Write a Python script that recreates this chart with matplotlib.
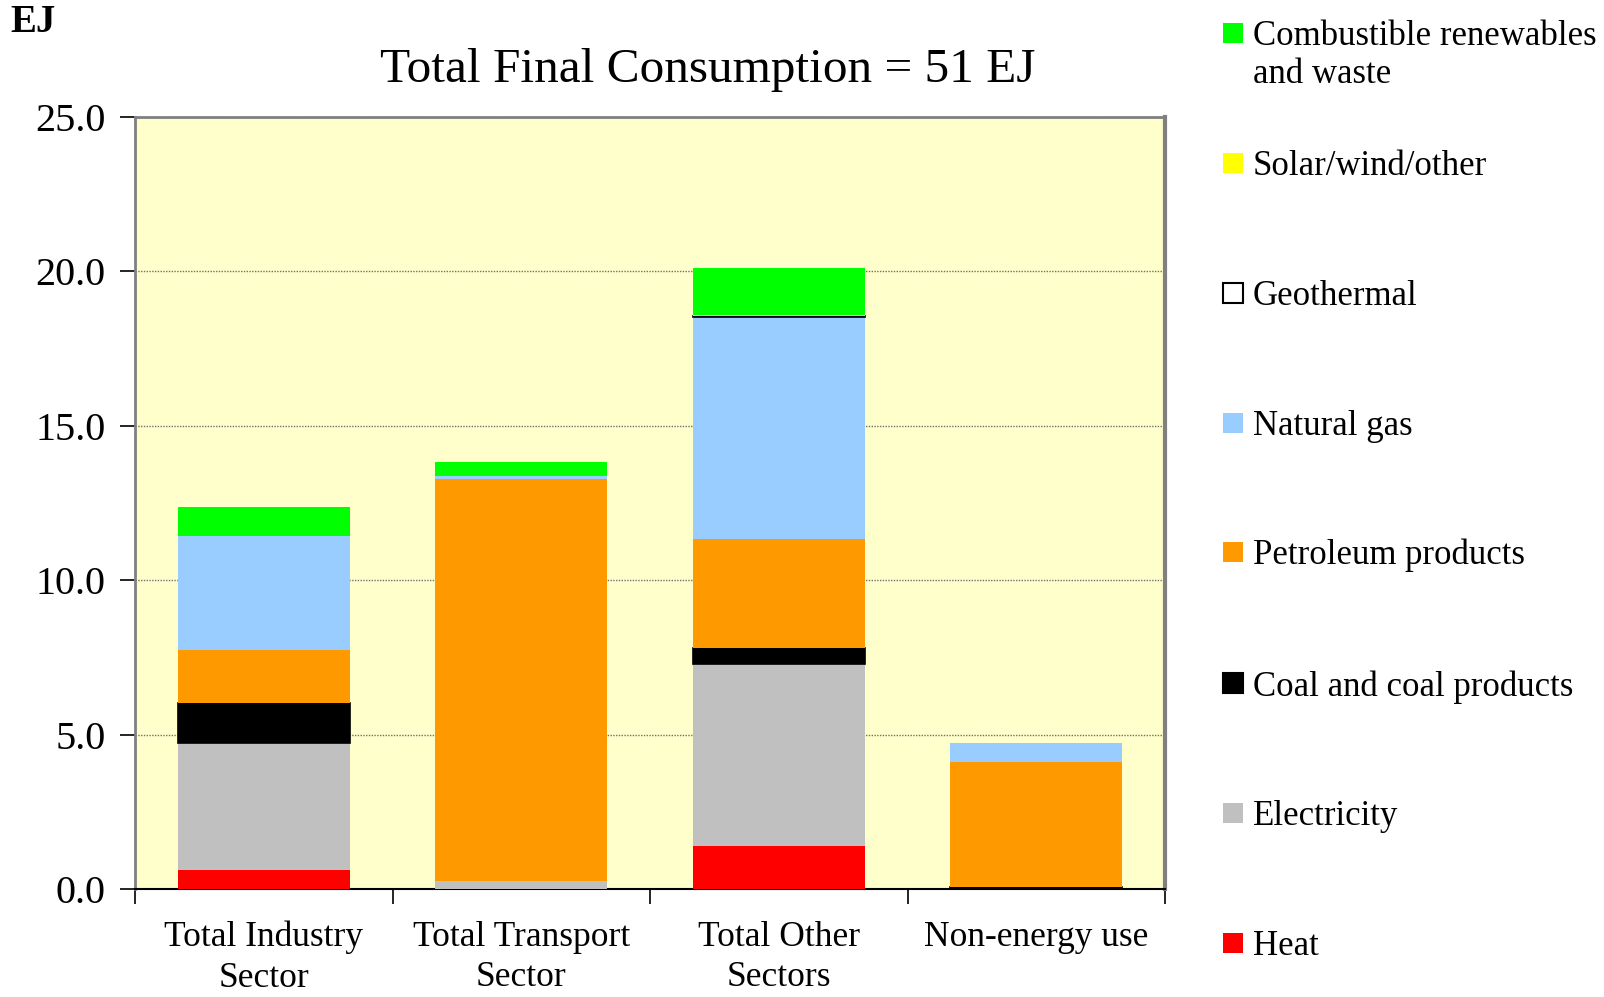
import matplotlib
matplotlib.use("Agg")
import matplotlib.pyplot as plt
import numpy as np
from matplotlib.patches import Rectangle

plt.rcParams['font.family'] = ['Liberation Serif', 'DejaVu Serif']

categories = ["Total Industry\nSector", "Total Transport\nSector", "Total Other\nSectors", "Non-energy use"]
series_names = ["Heat", "Electricity", "Coal and coal products", "Petroleum products",
                "Natural gas", "Geothermal", "Solar/wind/other", "Combustible renewables\nand waste"]
heat        = [0.62, 0.00, 1.39, 0.00]
electricity = [4.10, 0.27, 5.89, 0.00]
coal        = [1.31, 0.00, 0.53, 0.06]
petroleum   = [1.71, 13.02, 3.53, 4.05]
natural_gas = [3.69, 0.08, 7.18, 0.62]
geothermal  = [0.00, 0.00, 0.04, 0.00]
solar       = [0.00, 0.00, 0.03, 0.00]
crw         = [0.94, 0.46, 1.52, 0.00]
yticks = [0.0, 5.0, 10.0, 15.0, 20.0, 25.0]

series = [heat, electricity, coal, petroleum, natural_gas, geothermal, solar, crw]
colors = ["#FF0000", "#C0C0C0", "#000000", "#FF9900", "#99CCFF", "#FFFFFF", "#FFFF00", "#00FF00"]
edges = [None, None, "#000000", None, None, "#000000", None, None]

fig = plt.figure(figsize=(16.04, 9.97), dpi=100)
ax = fig.add_axes([135/1604, 1-889/997, (1165-135)/1604, (889-117)/997])
ax.set_facecolor("#FFFFCC")

x = np.arange(len(categories))
bottom = np.zeros(len(categories))
for vals, c, e in zip(series, colors, edges):
    v = np.array(vals)
    if e is None:
        ax.bar(x, v, 0.667, bottom=bottom, color=c, linewidth=0, zorder=3)
    else:
        lw = [1.2 if val > 0 else 0 for val in v]
        ax.bar(x, v, 0.667, bottom=bottom, color=c, edgecolor=e, linewidth=lw, zorder=3)
    bottom += v

ax.set_xlim(-0.5, 3.5)
ax.set_ylim(0, 25)
ax.set_yticks(yticks)
ax.set_yticklabels([f"{t:.1f}" for t in yticks], fontsize=29)
ax.yaxis.grid(True, linestyle=(0, (1, 1)), color="#707070", linewidth=1.0, zorder=0)
ax.set_axisbelow(True)

ax.set_xticks(x)
ax.set_xticklabels(categories, fontsize=25.5, linespacing=1.3, va='top')
ax.tick_params(axis='x', length=0, pad=23)
ax.set_xticks(np.arange(-0.5, 4.0, 1.0), minor=True)
ax.tick_params(axis='x', which='minor', length=11, width=1.2, color='#000000', direction='out')
ax.tick_params(axis='y', length=11, width=1.2, direction='out', pad=10)

for s in ['left', 'top', 'right']:
    ax.spines[s].set_color('#808080')
ax.spines['left'].set_linewidth(2)
ax.spines['top'].set_linewidth(2)
ax.spines['right'].set_linewidth(3)
ax.spines['bottom'].set_color('#000000')
ax.spines['bottom'].set_linewidth(1.5)

fig.text(708/1604, 1-70/997, "Total Final Consumption = 51 EJ", ha='center', va='center', fontsize=35.5)
fig.text(10/1604, 1-22/997, "EJ", ha='left', va='center', fontsize=28, fontweight='bold')

# legend (top to bottom, reverse of stacking order)
leg_y = [33, 163, 293, 423, 552, 683, 813, 943]
for i, (name, c, e) in enumerate(zip(series_names[::-1], colors[::-1], edges[::-1])):
    yc = leg_y[i]
    fig.patches.append(Rectangle((1223/1604, 1-(yc+10)/997), 20/1604, 20/997,
                                 transform=fig.transFigure, facecolor=c,
                                 edgecolor=(e if e else c), linewidth=(1.5 if e else 0)))
    fig.text(1253/1604, 1-(yc-13)/997, name, ha='left', va='top', fontsize=25, linespacing=1.2)

fig.savefig("out.png", dpi=100, facecolor="white")
